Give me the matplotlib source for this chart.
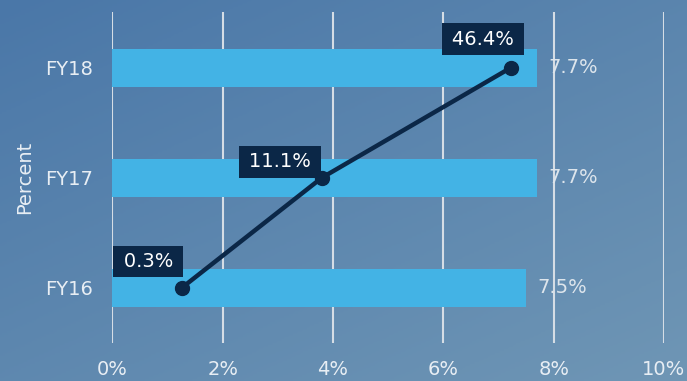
import numpy as np
import matplotlib
matplotlib.use("Agg")
import matplotlib.pyplot as plt
from matplotlib.colors import LinearSegmentedColormap

# Data
categories = ["FY16", "FY17", "FY18"]
bar_values = [7.5, 7.7, 7.7]          # percent, bottom axis
line_values = [0.3, 11.1, 46.4]       # percent, secondary (hidden) axis
x_ticks = [0, 2, 4, 6, 8, 10]
x_tick_labels = ["0%", "2%", "4%", "6%", "8%", "10%"]

# Styling
plt.rcParams["font.family"] = ["DejaVu Sans"]
text_color = "#e8eef4"
value_color = "#dde5ec"
bar_color = "#43b3e5"
line_color = "#0b2747"
grid_color = "#d5dde5"
fs = 14

fig = plt.figure(figsize=(6.87, 3.81), dpi=100)

# Gradient backdrop
bg = fig.add_axes([0, 0, 1, 1], zorder=-10)
gx, gy = np.meshgrid(np.linspace(0, 1, 300), np.linspace(0, 1, 200))
grad = 0.45 * gx + 0.55 * gy
cmap = LinearSegmentedColormap.from_list("bg", ["#4a77a8", "#6f96b5"])
bg.imshow(grad, cmap=cmap, aspect="auto", extent=[0, 1, 0, 1], origin="upper")
bg.set_axis_off()

ax = fig.add_axes([0.1635, 0.0997, 0.803, 0.8675])
ax.set_facecolor("none")
y = np.arange(len(categories))
ax.barh(y, bar_values, height=0.345, color=bar_color, zorder=2)
ax.set_xlim(0, 10)
ax.set_ylim(-0.5, 2.5)
ax.set_xticks(x_ticks)
ax.set_xticklabels(x_tick_labels)
ax.set_yticks(y)
ax.set_yticklabels(categories)
ax.tick_params(axis="both", length=0, colors=text_color, labelsize=fs)
ax.tick_params(axis="x", pad=12)
ax.tick_params(axis="y", pad=14)
for s in ax.spines.values():
    s.set_visible(False)
ax.grid(axis="x", color=grid_color, lw=1.5, zorder=1)
ax.set_axisbelow(True)
ax.set_ylabel("Percent", color=text_color, fontsize=fs, labelpad=8)

for yi, v in zip(y, bar_values):
    ax.annotate(f"{v}%", (v, yi), xytext=(8, 0), textcoords="offset points",
                ha="left", va="center", color=value_color, fontsize=fs)

# Secondary axis for the line series (compressed power scale)
p = 0.537
def fwd(v):
    v = np.asarray(v, dtype=float)
    return np.sign(v) * np.abs(v) ** p
def inv(u):
    u = np.asarray(u, dtype=float)
    return np.sign(u) * np.abs(u) ** (1.0 / p)

ax2 = ax.twiny()
ax2.set_xscale("function", functions=(fwd, inv))
ax2.set_xlim(-1.034, 90.7)
ax2.set_facecolor("none")
ax2.set_xticks([])
for s in ax2.spines.values():
    s.set_visible(False)
ax2.plot(line_values, y, color=line_color, lw=3.2, marker="o", ms=10, zorder=5,
         solid_capstyle="round")

label_offsets = [(-24, 19), (-30, 11.5), (-20, 20.5)]
for v, yi, off in zip(line_values, y, label_offsets):
    ax2.annotate(f"\u2009{v}%\u2009", (v, yi), xytext=off, textcoords="offset points",
                 ha="center", va="center", color="white", fontsize=fs, zorder=6,
                 bbox=dict(boxstyle="square,pad=0.32", fc=line_color, ec="none"))

fig.savefig("out.png", dpi=100)
